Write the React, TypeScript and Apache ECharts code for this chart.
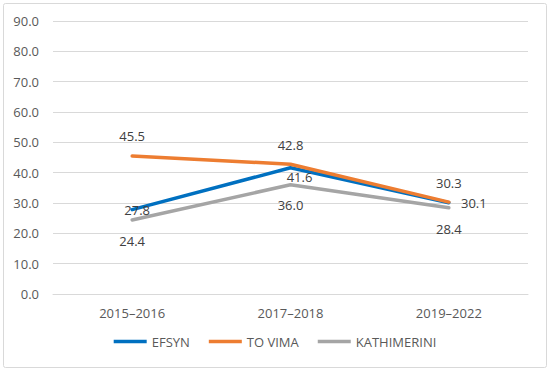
import React, { useEffect, useRef } from "react";
import * as echarts from "echarts";

const categories = ["2015–2016", "2017–2018", "2019–2022"];
const efsyn = [27.8, 41.6, 30.1];
const toVima = [45.5, 42.8, 30.3];
const kathimerini = [24.4, 36.0, 28.4];
const seriesNames = ["EFSYN", "TO VIMA", "KATHIMERINI"];

const FONT = "'Open Sans', 'Liberation Sans', sans-serif";
const FS = 13;

export default function App() {
  const ref = useRef<HTMLDivElement>(null);
  useEffect(() => {
    if (!ref.current) return;
    const chart = echarts.init(ref.current, null, { renderer: "svg" });
    const labelOffsets = [
      [[5, 0], [9, 9], [25, 0]],
      [[0, -20], [0, -19], [0, -19]],
      [[0, 21], [0, 20], [0, 21]],
    ];
    const colors = ["#0070C0", "#ED7D31", "#A5A5A5"];
    const datas = [efsyn, toVima, kathimerini];
    chart.setOption({
      animation: false,
      textStyle: { fontFamily: FONT },
      graphic: [
        {
          type: "rect",
          shape: { x: 3.5, y: 3.5, width: 543, height: 364, r: 2 },
          style: { fill: "none", stroke: "#d9d9d9", lineWidth: 1 },
          silent: true,
        },
      ],
      grid: { left: 53, right: 22, top: 21, bottom: 79 },
      legend: {
        bottom: 20,
        left: "center",
        icon: "rect",
        itemWidth: 33,
        itemHeight: 3.5,
        itemGap: 19,
        itemStyle: { opacity: 1 },
        textStyle: { color: "#595959", fontSize: FS, fontFamily: FONT },
        data: seriesNames,
      },
      xAxis: {
        type: "category",
        data: categories,
        boundaryGap: true,
        axisLine: { lineStyle: { color: "#d9d9d9", width: 1 } },
        axisTick: { show: false },
        axisLabel: { color: "#595959", fontSize: FS, margin: 12, fontFamily: FONT },
      },
      yAxis: {
        type: "value",
        min: 0,
        max: 90,
        interval: 10,
        axisLine: { show: false },
        axisTick: { show: false },
        splitLine: { lineStyle: { color: "#d9d9d9", width: 1 } },
        axisLabel: {
          color: "#595959",
          fontSize: FS,
          margin: 14,
          fontFamily: FONT,
          formatter: (v: number) => v.toFixed(1),
        },
      },
      series: seriesNames.map((name, si) => ({
        name,
        type: "line",
        data: datas[si].map((v, i) => ({
          value: v,
          label: { offset: labelOffsets[si][i] },
        })),
        color: colors[si],
        lineStyle: { color: colors[si], width: 3.5, cap: "round" },
        itemStyle: { color: colors[si] },
        symbol: "circle",
        symbolSize: 1,
        showSymbol: true,
        z: si === 1 ? 3 : si === 0 ? 2 : 1,
        label: {
          show: true,
          position: "inside",
          color: "#404040",
          fontSize: FS,
          fontFamily: FONT,
          formatter: (p: any) => Number(p.value).toFixed(1),
        },
      })),
    });
    return () => chart.dispose();
  }, []);
  return (
    <div
      ref={ref}
      style={{ position: "fixed", left: 0, top: 0, width: 550, height: 373, background: "#fff" }}
    />
  );
}
